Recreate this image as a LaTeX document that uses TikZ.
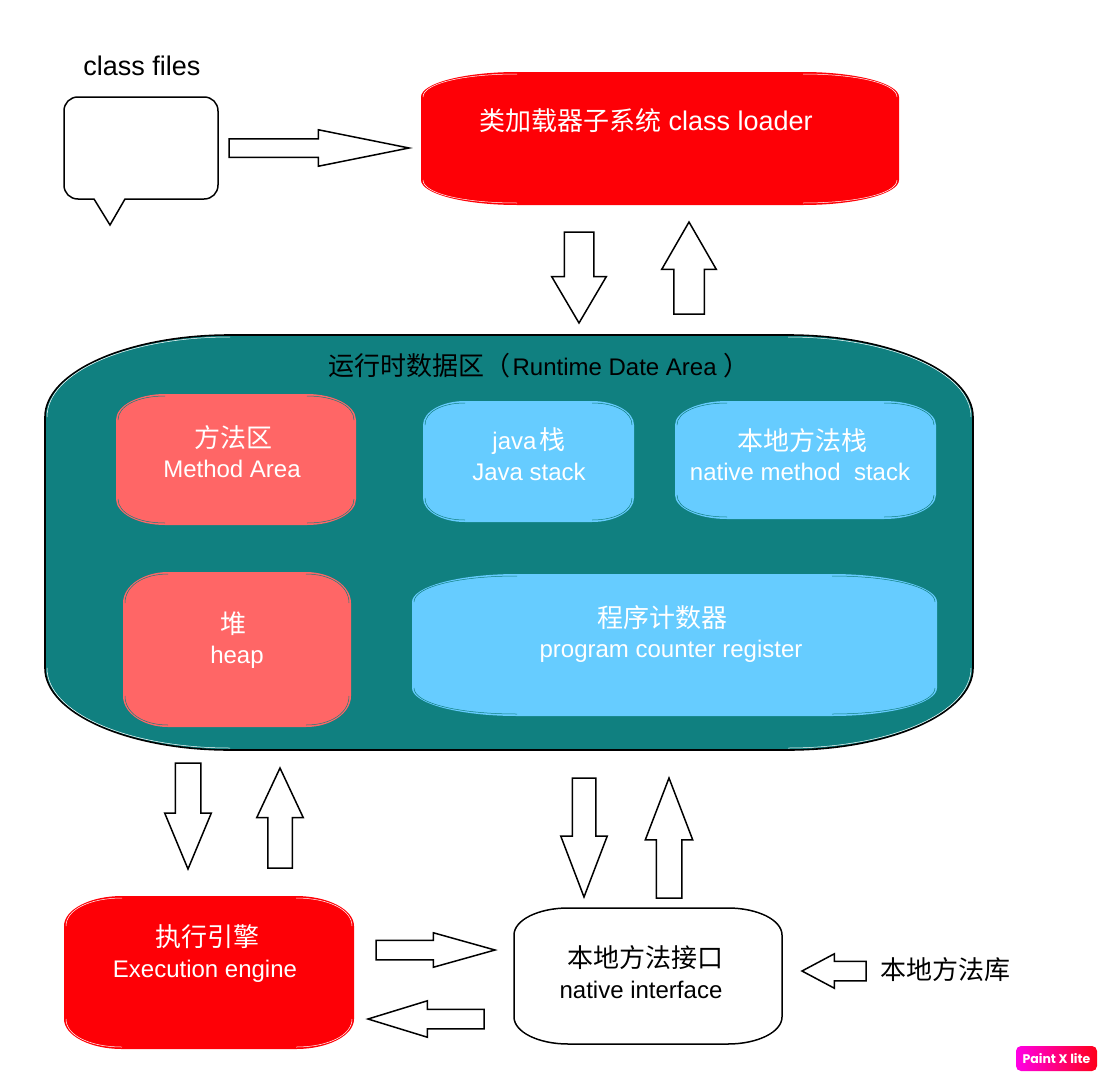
\documentclass[tikz,border=0pt]{standalone}
\usepackage{fontspec}
\setmainfont{Liberation Sans}
\newfontfamily\cjk{Noto Sans CJK SC}
\newfontfamily\badgefont{Poppins}
\usetikzlibrary{shapes.arrows}

\definecolor{loaderred}{HTML}{FE0006}
\definecolor{areateal}{HTML}{108080}
\definecolor{heappink}{HTML}{FF6666}
\definecolor{stackblue}{HTML}{66CCFF}

\newcommand{\zh}[1]{{\fontsize{26}{30}\selectfont\cjk #1}}

% name, left, top, right, bottom, corner rx, corner ry, fill style, inner line colour
\newcommand{\softbox}[9]{%
  \pgfmathsetmacro{\kx}{#6*.45}\pgfmathsetmacro{\ky}{#7*.45}%
  \path[#8] (#2+#6,#3) -- (#4-#6,#3)
    .. controls (#4-\kx,#3) and (#4,#3+\ky) .. (#4,#3+#7) -- (#4,#5-#7)
    .. controls (#4,#5-\ky) and (#4-\kx,#5) .. (#4-#6,#5) -- (#2+#6,#5)
    .. controls (#2+\kx,#5) and (#2,#5-\ky) .. (#2,#5-#7) -- (#2,#3+#7)
    .. controls (#2,#3+\ky) and (#2+\kx,#3) .. (#2+#6,#3) -- cycle;
  \draw[#9,line width=.5pt] (#4-#6,#3+2) .. controls (#4-\kx,#3+2) and (#4-2,#3+\ky) .. (#4-2,#3+#7)
    (#4-2,#5-#7) .. controls (#4-2,#5-\ky) and (#4-\kx,#5-2) .. (#4-#6,#5-2)
    (#2+#6,#5-2) .. controls (#2+\kx,#5-2) and (#2+2,#5-\ky) .. (#2+2,#5-#7)
    (#2+2,#3+#7) .. controls (#2+2,#3+\ky) and (#2+\kx,#3+2) .. (#2+#6,#3+2);
  \coordinate (#1) at ({(#2+#4)/2},{(#3+#5)/2});%
}

\tikzset{
  blockarrow/.style n args={4}{% length, shaft, head width, head length
    draw=black, fill=white, line width=1.5pt, shape=single arrow, anchor=tail,
    inner xsep=0pt, inner ysep={#2/2*1pt}, outer sep=0pt,
    minimum height={#1*1pt}, single arrow head indent=0pt,
    single arrow head extend={(#3-#2)/2*1pt},
    single arrow tip angle={2*atan((#3/2)/#4)}},
  whitetext/.style={text=white, font=\fontsize{24}{28}\selectfont, inner sep=0pt},
  blacktext/.style={text=black, font=\fontsize{24}{28}\selectfont, inner sep=0pt},
  bigtext/.style={font=\fontsize{27}{30}\selectfont, inner sep=0pt}
}

\begin{document}
\begin{tikzpicture}[x=1pt,y=-1pt]

      \useasboundingbox (0,0) rectangle (1106,1079);

      % class files
      \node[bigtext] (files) at (142,66) {class files};
      \draw[line width=1.5pt,fill=white] (125,199) -- (204,199)
        .. controls (212,199) and (218,193) .. (218,185) -- (218,111)
        .. controls (218,103) and (212,97) .. (204,97) -- (78,97)
        .. controls (70,97) and (64,103) .. (64,111) -- (64,185)
        .. controls (64,193) and (70,199) .. (78,199) -- (94,199) -- (110,225) -- cycle;
      \coordinate (bubble) at (141,148);

      % loader
      \softbox{loader}{421}{72}{899}{205}{96}{25}{fill=loaderred}{white}
      \node[bigtext,text=white] (loadertext) at (646,121) {\zh{类加载器子系统} class loader};

      % runtime area
      \softbox{runtime}{45}{335}{973}{750}{185}{82}{fill=areateal,draw=black,line width=1.6pt}{white}
      \node[blacktext] (runtimetext) at (539,366) {\zh{运行时数据区（}\kern2pt Runtime Date Area \zh{）}};

      \softbox{method}{116}{394}{356}{525}{49}{26}{fill=heappink}{areateal}
      \node[whitetext] (methodzh) at (233,438) {\zh{方法区}};
      \node[whitetext] (methoden) at (232,469) {Method Area};

      \softbox{javastack}{423}{401}{634}{522}{42}{24}{fill=stackblue}{areateal}
      \node[whitetext] (javazh) at (529,441) {java\kern3pt\zh{栈}};
      \node[whitetext] (javaen) at (529,472) {Java stack};

      \softbox{nativestack}{675}{401}{936}{519}{52}{24}{fill=stackblue}{areateal}
      \node[whitetext] (nativezh) at (802,441) {\zh{本地方法栈}};
      \node[whitetext] (nativeen) at (800,472) {native method\ \ stack};

      \softbox{heap}{123}{572}{351}{727}{45}{31}{fill=heappink}{areateal}
      \node[whitetext] (heapzh) at (233,624) {\zh{堆}};
      \node[whitetext] (heapen) at (237,657) {heap};

      \softbox{counter}{412}{574}{937}{716}{105}{28}{fill=stackblue}{areateal}
      \node[whitetext] (counterzh) at (662,618) {\zh{程序计数器}};
      \node[whitetext] (counteren) at (671,651) {program counter register};

      % engine and native interface
      \softbox{engine}{64}{896}{354}{1049}{58}{30}{fill=loaderred}{white}
      \node[whitetext] (enginezh) at (207,937) {\zh{执行引擎}};
      \node[whitetext] (engineen) at (205,971) {Execution engine};

      \softbox{interface}{514}{908}{782}{1044}{54}{27}{fill=white,draw=black,line width=1.5pt}{white}
      \node[blacktext] (interfacezh) at (645,958) {\zh{本地方法接口}};
      \node[blacktext] (interfaceen) at (641,990) {native interface};

      \node[blacktext] (library) at (945,970) {\zh{本地方法库}};

      % block arrows
      \node[blockarrow={180}{17}{35}{87}] (a1) at (229,148) {};
      \node[blockarrow={91}{28}{53}{45},rotate=-90] (a2) at (579,232) {};
      \node[blockarrow={92}{29}{53}{46},rotate=90] (a3) at (689,314) {};
      \node[blockarrow={106}{24}{45}{54},rotate=-90] (a4) at (188,763) {};
      \node[blockarrow={100}{23}{45}{48},rotate=90] (a5) at (280,868) {};
      \node[blockarrow={119}{22}{45}{59},rotate=-90] (a6) at (584,778) {};
      \node[blockarrow={120}{24}{46}{60},rotate=90] (a7) at (669,898) {};
      \node[blockarrow={119}{18}{33}{59}] (a8) at (376,950) {};
      \node[blockarrow={116}{18}{35}{57},rotate=180] (a9) at (484,1019) {};
      \node[blockarrow={64}{18}{33}{31},rotate=180] (a10) at (866,971) {};

      % badge
      \node[rounded corners=5pt,left color=magenta!90!red,right color=red!90!magenta,
        minimum width=81pt,minimum height=25pt,inner sep=0pt,text=white,
        font=\fontsize{12.5}{13}\selectfont\badgefont\bfseries] (badge) at (1056.5,1058.5) {Paint X lite};

\end{tikzpicture}
\end{document}
